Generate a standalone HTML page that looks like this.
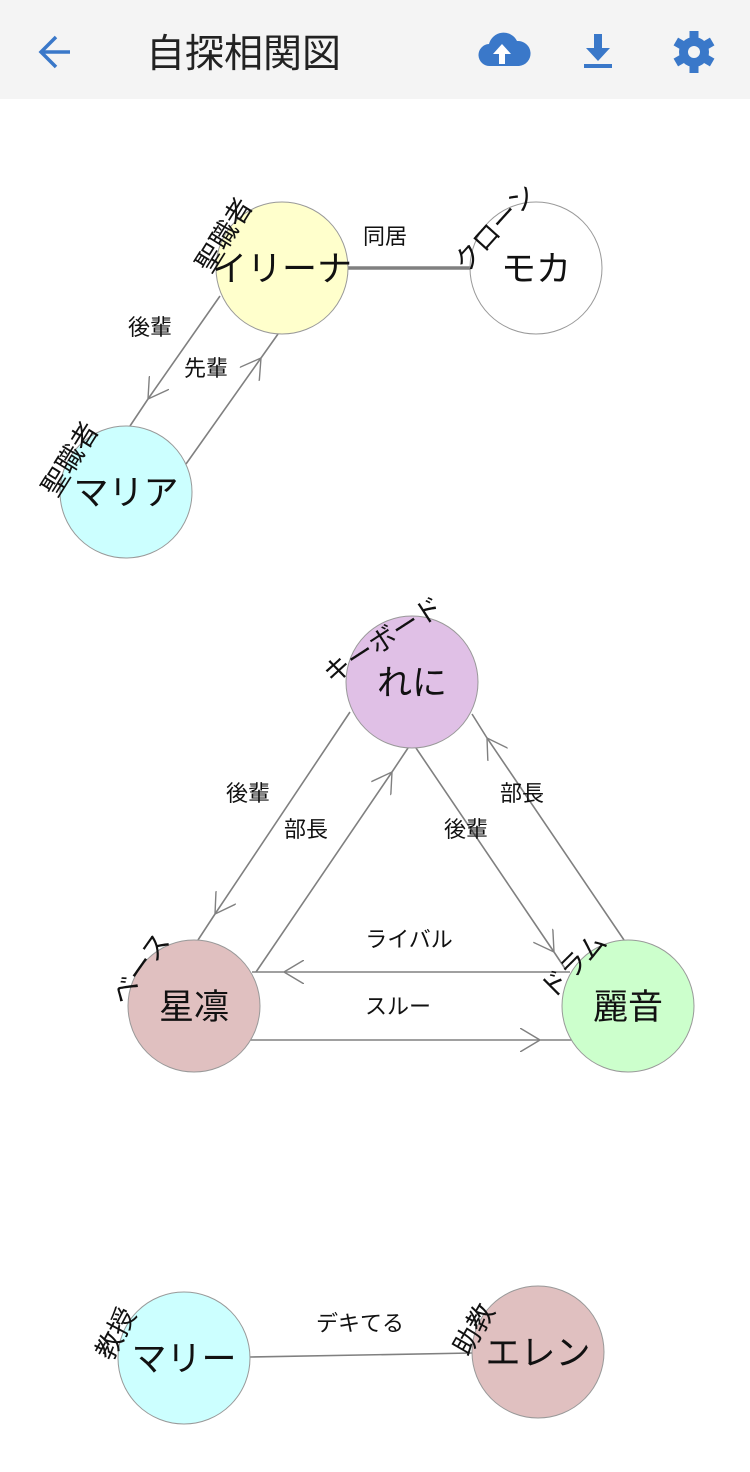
<!DOCTYPE html>
<html><head><meta charset="utf-8"><style>
html,body{margin:0;padding:0;background:#fff;width:750px;height:1472px;overflow:hidden;font-family:"Liberation Sans","Noto Sans CJK JP",sans-serif}
svg text{font-family:"Liberation Sans","Noto Sans CJK JP",sans-serif;fill:#111}
</style></head><body>
<svg width="750" height="1472" viewBox="0 0 750 1472" xmlns="http://www.w3.org/2000/svg">
<defs>
<marker id="a" viewBox="0 0 20 24" markerWidth="20" markerHeight="24" refX="20" refY="12" orient="auto" markerUnits="userSpaceOnUse">
<path d="M0,0 L20,12 L0,24" fill="none" stroke="#808080" stroke-width="1.4"/>
</marker>
</defs>
<rect x="0" y="0" width="750" height="99" fill="#f4f4f4"/>
<path d="M70,52 H42 M56,37 L41,52 L56,67" fill="none" stroke="#3a78c9" stroke-width="3.5"/>
<text x="146" y="67" font-size="39" style="fill:#222">自探相関図</text>
<g fill="#3a78c9">
<path d="M490,66 a11,11 0 0 1 -1,-22 a15,15 0 0 1 28,-3 a12,12 0 0 1 2,25 z"/>
<path d="M502,44 l-9,10 h6 v10 h6 v-10 h6 z" fill="#fff"/>
<path d="M594,34 h8 v14 h8 l-12,13 l-12,-13 h8 z"/>
<rect x="584" y="64" width="28" height="4"/>
<circle cx="694" cy="52" r="15"/>
<g transform="translate(694,52)">
<rect x="-4.5" y="-21" width="9" height="42"/>
<rect x="-4.5" y="-21" width="9" height="42" transform="rotate(60)"/>
<rect x="-4.5" y="-21" width="9" height="42" transform="rotate(120)"/>
</g>
<circle cx="694" cy="52" r="6" fill="#f4f4f4"/>
</g>
<g stroke="#808080" stroke-width="1.6" fill="none">
<line x1="348" y1="268" x2="470" y2="268" stroke-width="3.5"/>
<path d="M220,296 L148,399 L130,426" marker-mid="url(#a)"/>
<path d="M186,464 L261,358 L278,334" marker-mid="url(#a)"/>
<path d="M350,712 L215,914 L198,940" marker-mid="url(#a)"/>
<path d="M256,972 L392,772 L408,748" marker-mid="url(#a)"/>
<path d="M416,748 L554,952 L566,970" marker-mid="url(#a)"/>
<path d="M624,940 L487,738 L472,714" marker-mid="url(#a)"/>
<path d="M570,972 L284,972 L252,972" marker-mid="url(#a)"/>
<path d="M250,1040 L540,1040 L572,1040" marker-mid="url(#a)"/>
<line x1="250" y1="1357" x2="472" y2="1353"/>
</g>
<g font-size="22" text-anchor="middle">
<text x="385" y="244">同居</text>
<text x="150" y="335">後輩</text>
<text x="206" y="376">先輩</text>
<text x="248" y="801">後輩</text>
<text x="306" y="837">部長</text>
<text x="466" y="837">後輩</text>
<text x="522" y="801">部長</text>
<text x="409" y="947">ライバル</text>
<text x="398" y="1014">スルー</text>
<text x="360" y="1331">デキてる</text>
</g>
<g stroke="#999" stroke-width="1">
<circle cx="282" cy="268" r="66" fill="#ffffcc"/>
<circle cx="536" cy="268" r="66" fill="#ffffff"/>
<circle cx="126" cy="492" r="66" fill="#ccffff"/>
<circle cx="412" cy="682" r="66" fill="#e0c0e6"/>
<circle cx="194" cy="1006" r="66" fill="#e0c0c0"/>
<circle cx="628" cy="1006" r="66" fill="#ccffcc"/>
<circle cx="184" cy="1358" r="66" fill="#ccffff"/>
<circle cx="538" cy="1352" r="66" fill="#e0c0c0"/>
</g>
<g font-size="35" text-anchor="middle">
<text x="282" y="281">イリーナ</text>
<text x="536" y="281">モカ</text>
<text x="126" y="505">マリア</text>
<text x="412" y="695">れに</text>
<text x="194" y="1019">星凛</text>
<text x="628" y="1019">麗音</text>
<text x="184" y="1371">マリー</text>
<text x="538" y="1365">エレン</text>
</g>
<g font-size="27" text-anchor="middle">
<text transform="translate(232,240) rotate(-58)">聖職者</text>
<text transform="translate(78,464) rotate(-58)">聖職者</text>
<text transform="translate(502,234) rotate(-48)">クローン</text>
<text transform="translate(388,648) rotate(-33)">キーボード</text>
<text transform="translate(148,974) rotate(-55)">ベース</text>
<text transform="translate(580,972) rotate(-45)">ドラム</text>
<text transform="translate(124,1338) rotate(-62)">教授</text>
<text transform="translate(482,1334) rotate(-60)">助教</text>
</g>
</svg>
</body></html>
